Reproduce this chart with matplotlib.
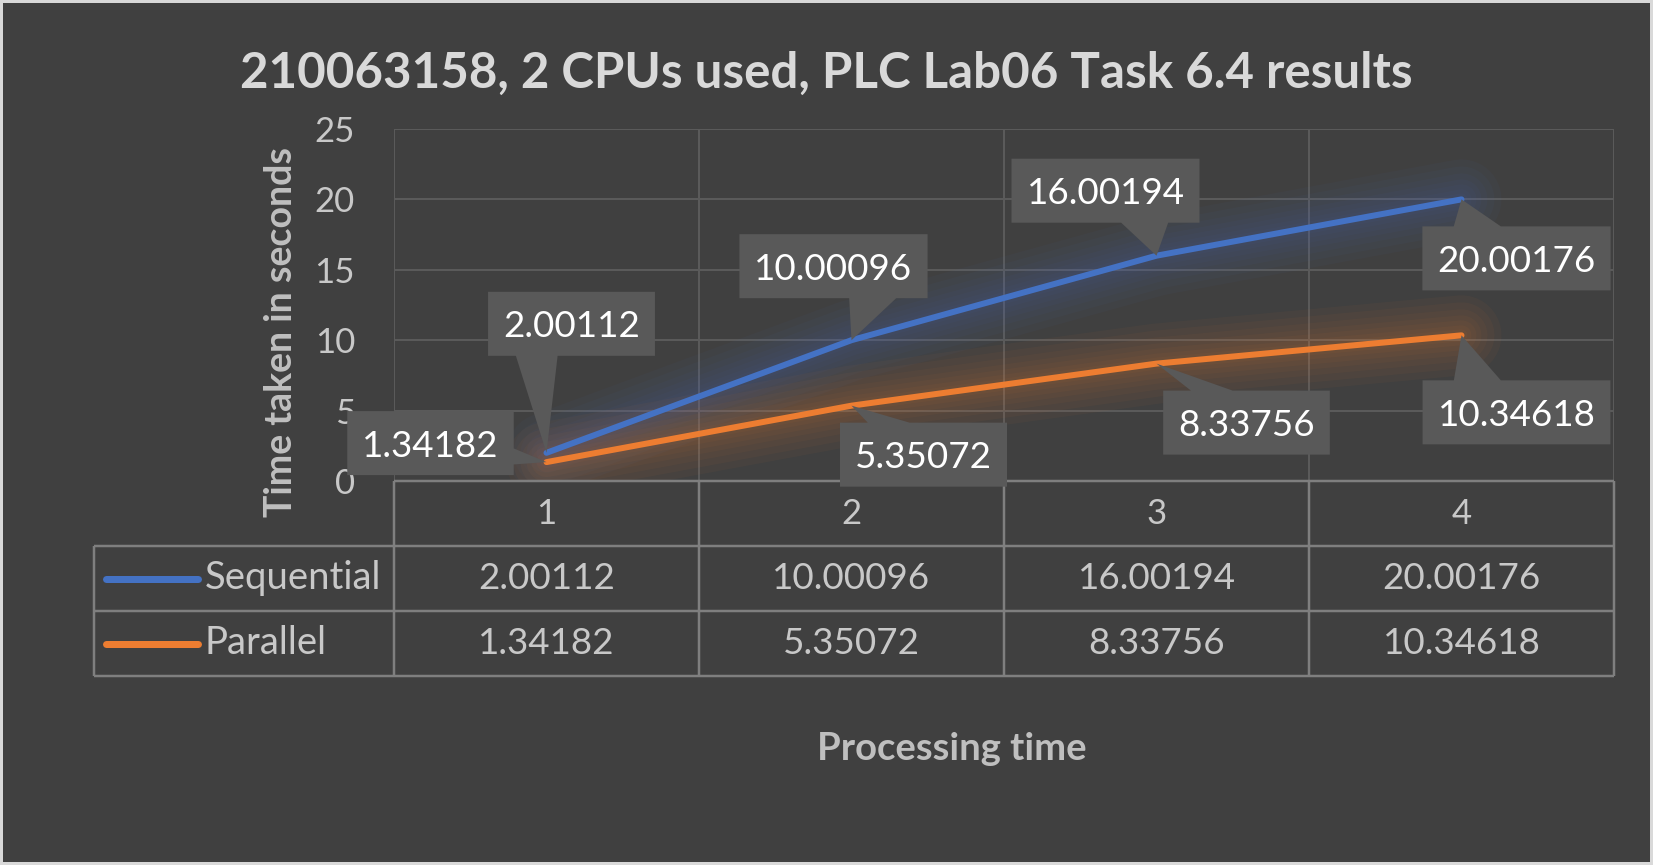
import matplotlib
matplotlib.use("Agg")
import matplotlib.pyplot as plt
import matplotlib.transforms as mtransforms
from matplotlib.patches import Polygon, Rectangle

# data
categories = [1, 2, 3, 4]
sequential = [2.00112, 10.00096, 16.00194, 20.00176]
parallel = [1.34182, 5.35072, 8.33756, 10.34618]
series_names = ["Sequential", "Parallel"]
y_ticks = [0, 5, 10, 15, 20, 25]

title = "210063158, 2 CPUs used, PLC Lab06 Task 6.4 results"
x_title = "Processing time"
y_title = "Time taken in seconds"

# layout (pixels, image coords y-down)
W, H = 1653, 865
PX = 72 / 100  # points per pixel at dpi 100
BG = "#404040"
BLUE = "#4472C4"
ORANGE = "#ED7D31"
TEXT = "#c8c8c8"
GRID = "#5a5a5a"
TABLE_LINE = "#7f7f7f"
LABEL_BOX = "#595959"

# label box centre offsets from the data point, in pixels (dx, dy down)
seq_offsets = [(25, -126), (-18, -71), (-51, -62), (55, 62)]
par_offsets = [(-116, -16), (72, 52), (90, 62), (55, 80)]

plt.rcParams["font.family"] = ["Lato", "DejaVu Sans"]

fig = plt.figure(figsize=(W / 100, H / 100), dpi=100, facecolor=BG)

ax = fig.add_axes([394 / W, 1 - 481 / H, 1220 / W, 352 / H])
ax.set_facecolor("none")
ax.set_xlim(0.5, len(categories) + 0.5)
ax.set_ylim(y_ticks[0], y_ticks[-1])
for sp in ax.spines.values():
    sp.set_visible(False)
ax.set_xticks([])
ax.set_yticks(y_ticks)
ax.tick_params(axis="y", length=0, pad=28, labelsize=25, labelcolor=TEXT)

for yv in y_ticks[1:]:
    ax.axhline(yv, color=GRID, lw=2 * PX, zorder=0)
for i in range(len(categories) + 1):
    ax.axvline(0.5 + i, color=GRID, lw=2 * PX, zorder=0)

# soft glow + lines
for vals, col in [(sequential, BLUE), (parallel, ORANGE)]:
    for gw in [80, 66, 52, 40, 30, 20, 12]:
        ax.plot(categories, vals, color=col, lw=gw * PX, alpha=0.045,
                solid_capstyle="round", solid_joinstyle="round", zorder=2)
    ax.plot(categories, vals, color=col, lw=6 * PX,
            solid_capstyle="round", solid_joinstyle="round", zorder=3)

# data table
tab = fig.add_axes([94 / W, 1 - 676 / H, 1520 / W, 195 / H])
tab_left = len(categories) + 0.5 - 1520 / 305
tab.set_xlim(tab_left, len(categories) + 0.5)
tab.set_ylim(0, 3)
tab.axis("off")
lw_t = 2.5 * PX
tab.hlines(3, 0.5, len(categories) + 0.5, color=TABLE_LINE, lw=lw_t, clip_on=False)
for yv in [2, 1, 0]:
    tab.hlines(yv, tab_left, len(categories) + 0.5, color=TABLE_LINE, lw=lw_t, clip_on=False)
tab.vlines(tab_left, 0, 2, color=TABLE_LINE, lw=lw_t, clip_on=False)
for i in range(len(categories) + 1):
    tab.vlines(0.5 + i, 0, 3, color=TABLE_LINE, lw=lw_t, clip_on=False)

for c in categories:
    tab.text(c, 2.5, str(c), ha="center", va="center", fontsize=25, color=TEXT)
for row, (name, vals, col) in enumerate(zip(series_names, [sequential, parallel], [BLUE, ORANGE])):
    yc = 1.5 - row
    tab.plot([tab_left + 11.5 / 305, tab_left + 104 / 305], [yc, yc], color=col,
             lw=7 * PX, solid_capstyle="round", clip_on=False)
    tab.text(tab_left + 111 / 305, yc, name, ha="left", va="center", fontsize=27.5, color=TEXT)
    for c, v in zip(categories, vals):
        tab.text(c, yc, f"{v:.5f}", ha="center", va="center", fontsize=26.5, color=TEXT)

# titles
fig.text(0.5, 1 - 88 / H, title, ha="center", va="baseline", fontsize=35.5,
         fontweight="bold", color="#d9d9d9")
fig.text(952 / W, 1 - 760 / H, x_title, ha="center", va="baseline", fontsize=27.5,
         fontweight="bold", color="#bfbfbf")
fig.text(281 / W, 1 - 332 / H, y_title, ha="center", va="center", rotation=90,
         fontsize=27, fontweight="bold", color="#bfbfbf")


def wedge_callout(l, t, w, h, tx, ty):
    # Excel style rectangular callout, image coords (y down)
    hc, vc = l + w / 2, t + h / 2
    dx, dy = tx - hc, ty - vc
    dq = dx * h / w
    x1, x2 = (l + w * 7 / 12, l + w * 10 / 12) if dx > 0 else (l + w * 2 / 12, l + w * 5 / 12)
    y1, y2 = (t + h * 7 / 12, t + h * 10 / 12) if dy > 0 else (t + h * 2 / 12, t + h * 5 / 12)
    r, b = l + w, t + h
    if abs(dy) > abs(dq):
        if dy < 0:
            return [(l, t), (x1, t), (tx, ty), (x2, t), (r, t), (r, b), (l, b)]
        return [(l, t), (r, t), (r, b), (x2, b), (tx, ty), (x1, b), (l, b)]
    if dx < 0:
        return [(l, t), (r, t), (r, b), (l, b), (l, y2), (tx, ty), (l, y1)]
    return [(l, t), (r, t), (r, y1), (tx, ty), (r, y2), (r, b), (l, b)]


ident = mtransforms.IdentityTransform()
renderer = fig.canvas.get_renderer()
for vals, offsets in [(sequential, seq_offsets), (parallel, par_offsets)]:
    for c, v, (ox, oy) in zip(categories, vals, offsets):
        px, py = ax.transData.transform((c, v))
        py = H - py
        cx, cy = px + ox, py + oy
        txt = fig.text(cx, H - cy, f"{v:.5f}", transform=ident, ha="center", va="center",
                       fontsize=26.5, color="white", zorder=5)
        tw = txt.get_window_extent(renderer).width
        bw, bh = tw + 30, 64
        # box sits a little higher than the text centre
        pts = wedge_callout(cx - bw / 2, cy - bh / 2 - 3, bw, bh, px, py)
        fig.add_artist(Polygon([(x, H - y) for x, y in pts], closed=True, transform=ident,
                               facecolor=LABEL_BOX, edgecolor="none", zorder=4))

fig.add_artist(Rectangle((0, 0), 1, 1, transform=fig.transFigure, fill=False,
                         edgecolor="#d9d9d9", lw=6 * PX, zorder=10))

fig.savefig("out.png", dpi=100, facecolor=BG)
